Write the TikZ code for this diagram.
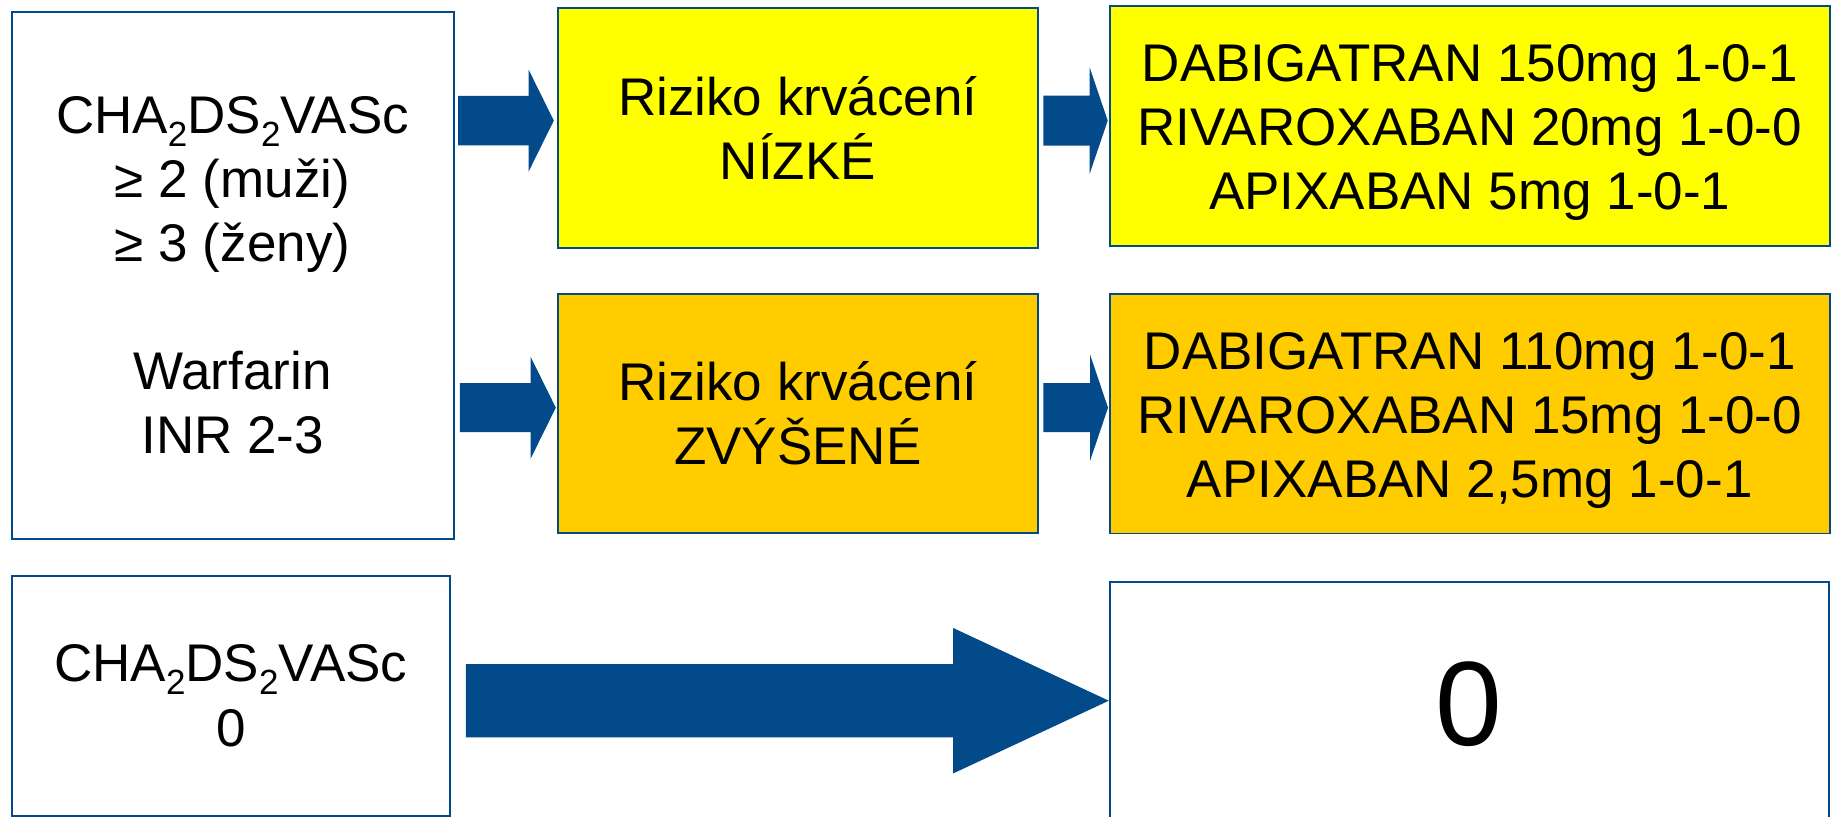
\documentclass[tikz,border=0pt]{standalone}
\usepackage{fontspec}
\setmainfont{Liberation Sans}
\usetikzlibrary{calc}
\definecolor{dblue}{HTML}{024A8A}
\definecolor{myyellow}{HTML}{FFFF00}
\definecolor{myorange}{HTML}{FFCC00}
\newcommand\subtwo{\raisebox{-0.24em}{\fontsize{17.5}{17.5}\selectfont 2}}
% #1 start, #2 tip (same height), #3 shaft half width, #4 head half width, #5 head length (px)
\newcommand\blockarrow[5]{%
  \fill[dblue] ($(#1)+(0,-#3)$) -- ($(#2)+(-#5,-#3)$) -- ($(#2)+(-#5,-#4)$) -- (#2)
    -- ($(#2)+(-#5,#4)$) -- ($(#2)+(-#5,#3)$) -- ($(#1)+(0,#3)$) -- cycle;}
\begin{document}
\begin{tikzpicture}[x=0.5pt,y=-0.5pt,
  box/.style={draw=dblue, line width=0.9pt, inner sep=0pt, anchor=north west},
  txt/.style={font=\fontsize{26.5}{32}\selectfont, align=center, inner sep=0pt}]
\useasboundingbox[fill=white] (0,0) rectangle (1834,816);

% boxes
\node[box, fill=white, minimum width=221pt, minimum height=263.65pt] (L) at (10.7,10.7) {};
\node[box, fill=myyellow, minimum width=240.1pt, minimum height=120pt] (A) at (556.8,6.7) {};
\node[box, fill=myorange, minimum width=240.1pt, minimum height=119.5pt] (B) at (556.8,293.3) {};
\node[box, fill=myyellow, minimum width=359.85pt, minimum height=120pt] (C) at (1109,5) {};
\node[box, fill=myorange, minimum width=359.85pt, minimum height=119.6pt] (D) at (1109,293.4) {};
\node[box, fill=white, minimum width=219.15pt, minimum height=119.85pt] (E) at (10.7,575) {};
\node[box, fill=white, minimum width=359.6pt, minimum height=120pt] (F) at (1108.8,580.7) {};

% texts
\node[txt] (tL) at (L.center) {CHA\subtwo DS\subtwo VASc\\ ≥ 2 (muži)\\ ≥ 3 (ženy)\\[32pt] Warfarin\\ INR 2-3};
\node[txt] (tA) at (A.center) {Riziko krvácení\\ NÍZKÉ};
\node[txt] (tB) at (B.center) {Riziko krvácení\\ ZVÝŠENÉ};
\node[txt] (tC) at ($(C.center)+(0,6.5)$) {DABIGATRAN 150mg 1-0-1\\ RIVAROXABAN 20mg 1-0-0\\ APIXABAN 5mg 1-0-1};
\node[txt] (tD) at ($(D.center)+(0,6.5)$) {DABIGATRAN 110mg 1-0-1\\ RIVAROXABAN 15mg 1-0-0\\ APIXABAN 2,5mg 1-0-1};
\node[txt, font=\fontsize{26.5}{32.5}\selectfont] (tE) at (E.center) {CHA\subtwo DS\subtwo VASc\\ 0};
\node[txt, font=\fontsize{60}{72}\selectfont] (tF) at ($(F.center)+(0,3)$) {0};

% arrow anchor coordinates
\coordinate (r1) at ($(A.center)+(0,-7)$);
\coordinate (r2) at ($(B.center)+(0,-6)$);
\coordinate (a1s) at ($(L.east |- r1)+(3.5,0)$);
\coordinate (a1t) at ($(A.west |- r1)+(-3,0)$);
\coordinate (a2s) at ($(A.east |- r1)+(4.6,0)$);
\coordinate (a2t) at ($(C.west |- r1)+(-1.3,0)$);
\coordinate (b1s) at ($(L.east |- r2)+(5.3,0)$);
\coordinate (b1t) at ($(B.west |- r2)+(-1,0)$);
\coordinate (b2s) at ($(B.east |- r2)+(4.5,0)$);
\coordinate (b2t) at ($(D.west |- r2)+(-1,0)$);
\coordinate (r3) at (0,700.7);
\coordinate (c1s) at ($(E.east |- r3)+(15,0)$);
\coordinate (c1t) at (F.west |- r3);

\blockarrow{a1s}{a1t}{24.7}{51.2}{25.3}
\blockarrow{a2s}{a2t}{25}{53}{18}
\blockarrow{b1s}{b1t}{24.5}{51.2}{25.3}
\blockarrow{b2s}{b2t}{24.5}{53.3}{18}
\blockarrow{c1s}{c1t}{36.7}{72.8}{155.8}
\end{tikzpicture}
\end{document}
